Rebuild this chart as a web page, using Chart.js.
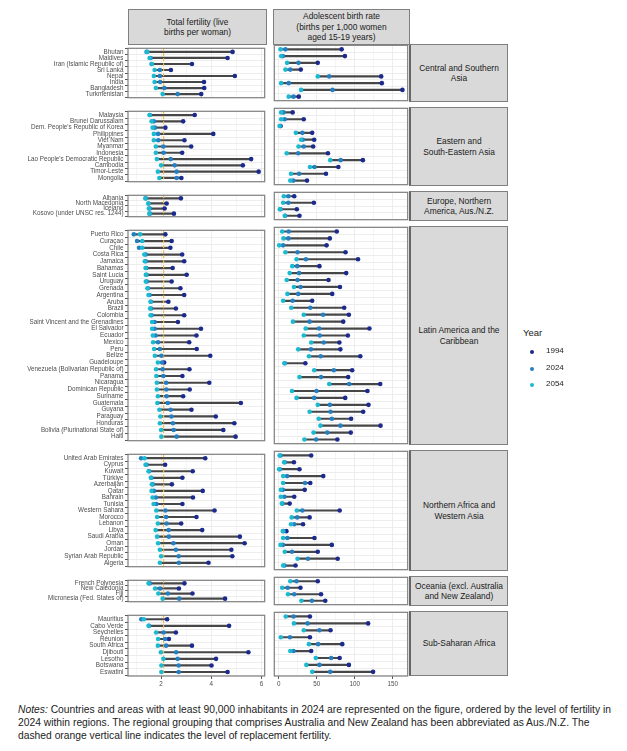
<!DOCTYPE html>
<html><head><meta charset="utf-8">
<script src="https://cdn.jsdelivr.net/npm/chart.js@4"></script>
<style>
body{margin:0;background:#fff;font-family:"Liberation Sans",Arial,sans-serif;}
#root{position:relative;width:627px;height:751px;overflow:hidden;background:#fff;}
.cbox{position:absolute;}
.strip{position:absolute;background:#d9d9d9;border:1px solid #7f7f7f;box-sizing:border-box;display:flex;align-items:center;justify-content:center;text-align:center;font-size:8.4px;color:#1a1a1a;line-height:1.25;}
.rstrip{border-left:2px solid #666;}
#legend{position:absolute;left:523px;top:327px;font-size:8px;color:#1a1a1a;}
#legend .t{font-size:9.5px;margin-bottom:9px;}
#legend .it{position:relative;height:16.6px;}
#legend .dot{position:absolute;left:7px;top:3px;width:4px;height:4px;border-radius:50%;}
#legend .lb{position:absolute;left:23px;top:-1px;}
#notes{position:absolute;left:18px;top:703px;width:605px;font-size:10.3px;line-height:13px;color:#222;}
</style></head>
<body><div id="root"></div>
<script>
// ---------- DATA ----------
const years = ["1994", "2024", "2054"];
const yearColors = ["#1b2a8c", "#2480c2", "#1cbad0"];
const replacementFertility = 2.1;
const tfrTicks = [2, 4, 6];
const tfrMinorTicks = [1, 3, 5];
const abrTicks = [0, 50, 100, 150];
const abrMinorTicks = [25, 75, 125];
const columnTitles = ["Total fertility (live<br>births per woman)", "Adolescent birth rate<br>(births per 1,000 women<br>aged 15-19 years)"];

const csaStrip = "Central and Southern<br>Asia";
const csaCountries = ["Bhutan","Maldives","Iran (Islamic Republic of)","Sri Lanka","Nepal","India","Bangladesh","Turkmenistan"];
const csaTfr1994 = [4.85,4.65,3.23,2.39,4.94,3.71,3.72,3.60];
const csaTfr2024 = [1.42,1.58,1.62,1.95,1.95,1.96,2.13,2.66];
const csaTfr2054 = [1.45,1.54,1.63,1.74,1.71,1.74,1.79,2.06];
const csaAbr1994 = [82.7,87.0,51.3,29.0,134.7,135.5,162.6,26.4];
const csaAbr2024 = [8.8,5.4,26.0,15.2,66.3,13.1,70.7,19.5];
const csaAbr2054 = [2.4,3.2,11.0,8.8,51.3,3.2,29.4,13.1];

const eseaStrip = "Eastern and<br>South-Eastern Asia";
const eseaCountries = ["Malaysia","Brunei Darussalam","Dem. People's Republic of Korea","Philippines","Viet Nam","Myanmar","Indonesia","Lao People's Democratic Republic","Cambodia","Timor-Leste","Mongolia"];
const eseaTfr1994 = [3.34,2.88,2.17,4.08,2.93,3.20,2.84,5.59,5.26,5.89,2.81];
const eseaTfr2024 = [1.55,1.71,1.75,1.88,1.89,2.09,2.10,2.38,2.54,2.62,2.62];
const eseaTfr2054 = [1.54,1.62,1.66,1.71,1.71,1.79,1.79,1.83,2.00,1.87,1.93];
const eseaAbr1994 = [18.3,32.9,2.5,44.0,46.6,45.3,64.7,110.6,78.4,62.1,37.2];
const eseaAbr2024 = [6.2,7.9,1.9,31.1,31.6,32.9,25.6,81.4,47.0,26.8,19.1];
const eseaAbr2054 = [3.2,3.2,1.1,22.5,29.4,26.0,10.5,67.7,41.0,16.1,15.2];

const enaStrip = "Europe, Northern<br>America, Aus./N.Z.";
const enaCountries = ["Albania","North Macedonia","Iceland","Kosovo (under UNSC res. 1244)"];
const enaTfr1994 = [2.79,2.22,2.14,2.51];
const enaTfr2024 = [1.39,1.50,1.55,1.55];
const enaTfr2054 = [1.37,1.49,1.51,1.53];
const enaAbr1994 = [20.4,46.2,23.8,27.3];
const enaAbr2024 = [12.7,12.7,2.4,8.5];
const enaAbr2054 = [6.7,5.8,1.5,7.9];

const lacStrip = "Latin America and the<br>Caribbean";
const lacCountries = ["Puerto Rico","Curaçao","Chile","Costa Rica","Jamaica","Bahamas","Saint Lucia","Uruguay","Grenada","Argentina","Aruba","Brazil","Colombia","Saint Vincent and the Grenadines","El Salvador","Ecuador","Mexico","Peru","Belize","Guadeloupe","Venezuela (Bolivarian Republic of)","Panama","Nicaragua","Dominican Republic","Suriname","Guatemala","Guyana","Paraguay","Honduras","Bolivia (Plurinational State of)","Haiti"];
const lacTfr1994 = [2.17,2.42,2.37,2.84,2.92,2.46,3.02,2.42,2.77,2.92,2.29,2.59,2.92,2.67,3.59,3.41,3.12,3.42,3.96,2.12,3.13,2.85,3.92,3.14,2.88,5.18,3.21,4.18,4.92,4.48,4.97];
const lacTfr2024 = [0.91,1.04,1.12,1.39,1.39,1.41,1.42,1.43,1.47,1.54,1.59,1.60,1.62,1.74,1.74,1.78,1.88,1.95,2.01,2.04,2.06,2.09,2.20,2.21,2.22,2.27,2.38,2.41,2.47,2.50,2.62];
const lacTfr2054 = [1.16,1.25,1.25,1.33,1.35,1.38,1.39,1.39,1.46,1.50,1.58,1.56,1.58,1.64,1.64,1.67,1.68,1.72,1.75,1.87,1.80,1.81,1.83,1.83,1.87,1.85,1.93,1.97,1.95,2.00,2.01];
const lacAbr1994 = [76.3,67.2,62.9,87.8,104.2,53.5,88.7,65.5,80.5,70.3,44.0,86.1,92.2,84.8,119.2,90.9,79.7,81.0,107.2,35.0,96.5,91.3,133.4,116.6,87.4,118.0,111.0,95.1,133.8,94.7,77.1];
const lacAbr2024 = [13.1,12.7,5.8,24.7,35.8,24.3,26.8,24.7,28.6,25.6,18.3,41.5,58.3,40.6,53.1,53.9,59.1,42.3,55.2,8.0,72.4,55.6,92.6,49.6,46.6,67.2,68.1,69.8,81.0,63.8,49.2];
const lacAbr2054 = [4.5,6.2,0.6,8.8,23.4,17.8,14.4,10.5,20.0,11.4,5.8,16.5,32.9,18.7,35.4,32.9,42.7,25.6,39.7,7.5,46.6,27.3,66.4,17.4,23.4,51.3,40.6,52.6,54.8,45.7,33.7];

const nawaStrip = "Northern Africa and<br>Western Asia";
const nawaCountries = ["United Arab Emirates","Cyprus","Kuwait","Türkiye","Azerbaijan","Qatar","Bahrain","Tunisia","Western Sahara","Morocco","Lebanon","Libya","Saudi Arabia","Oman","Jordan","Syrian Arab Republic","Algeria"];
const nawaTfr1994 = [3.76,2.16,3.26,2.85,2.43,3.66,3.27,2.85,4.13,3.41,2.80,3.64,5.14,5.33,4.80,4.84,3.89];
const nawaTfr2024 = [1.20,1.42,1.52,1.61,1.67,1.71,1.79,1.81,2.17,2.20,2.22,2.30,2.31,2.49,2.59,2.70,2.71];
const nawaTfr2054 = [1.34,1.38,1.50,1.59,1.63,1.62,1.66,1.70,1.81,1.84,1.87,1.78,1.84,1.88,1.95,2.00,1.95];
const nawaAbr1994 = [42.7,20.0,27.3,58.6,41.5,34.2,20.4,14.4,80.1,40.6,32.0,10.1,47.0,69.8,51.3,77.5,22.1];
const nawaAbr2024 = [2.4,8.0,1.5,11.0,34.6,5.4,7.5,5.0,31.1,24.3,20.4,6.5,11.4,5.4,17.4,38.4,7.5];
const nawaAbr2054 = [1.1,7.1,0.6,5.8,5.8,2.8,2.8,4.1,23.8,17.0,16.1,5.4,5.8,2.4,7.9,24.7,5.8];

const ocStrip = "Oceania (excl. Australia<br>and New Zealand)";
const ocCountries = ["French Polynesia","New Caledonia","Fiji","Micronesia (Fed. States of)"];
const ocTfr1994 = [2.93,2.71,3.25,4.55];
const ocTfr2024 = [1.55,1.96,2.27,2.72];
const ocTfr2054 = [1.50,1.76,1.89,2.06];
const ocAbr1994 = [51.3,28.6,55.6,61.2];
const ocAbr2024 = [23.4,11.8,20.4,43.6];
const ocAbr2054 = [15.2,4.5,12.2,29.8];

const ssaStrip = "Sub-Saharan Africa";
const ssaCountries = ["Mauritius","Cabo Verde","Seychelles","Réunion","South Africa","Djibouti","Lesotho","Botswana","Eswatini"];
const ssaTfr1994 = [2.24,4.71,2.59,2.31,3.23,5.48,4.19,4.01,4.65];
const ssaTfr2024 = [1.21,1.52,2.10,2.16,2.20,2.60,2.66,2.70,2.70];
const ssaTfr2054 = [1.31,1.50,1.80,1.88,1.87,1.99,2.09,2.01,2.01];
const ssaAbr1994 = [41.0,117.5,68.1,41.0,83.5,42.7,80.1,92.2,124.0];
const ssaAbr2024 = [19.5,38.0,53.5,14.8,51.8,19.5,68.9,53.5,67.7];
const ssaAbr2054 = [9.2,20.0,32.9,2.8,39.7,15.2,48.7,36.3,44.0];

const notesText = "<i>Notes:</i> Countries and areas with at least 90,000 inhabitants in 2024 are represented on the figure, ordered by the level of fertility in 2024 within regions. The regional grouping that comprises Australia and New Zealand has been abbreviated as Aus./N.Z. The dashed orange vertical line indicates the level of replacement fertility.";

// ---------- BUILD ----------
const panels = [
  {names: csaCountries, strip: csaStrip, tfr: [csaTfr1994, csaTfr2024, csaTfr2054], abr: [csaAbr1994, csaAbr2024, csaAbr2054]},
  {names: eseaCountries, strip: eseaStrip, tfr: [eseaTfr1994, eseaTfr2024, eseaTfr2054], abr: [eseaAbr1994, eseaAbr2024, eseaAbr2054]},
  {names: enaCountries, strip: enaStrip, tfr: [enaTfr1994, enaTfr2024, enaTfr2054], abr: [enaAbr1994, enaAbr2024, enaAbr2054]},
  {names: lacCountries, strip: lacStrip, tfr: [lacTfr1994, lacTfr2024, lacTfr2054], abr: [lacAbr1994, lacAbr2024, lacAbr2054]},
  {names: nawaCountries, strip: nawaStrip, tfr: [nawaTfr1994, nawaTfr2024, nawaTfr2054], abr: [nawaAbr1994, nawaAbr2024, nawaAbr2054]},
  {names: ocCountries, strip: ocStrip, tfr: [ocTfr1994, ocTfr2024, ocTfr2054], abr: [ocAbr1994, ocAbr2024, ocAbr2054]},
  {names: ssaCountries, strip: ssaStrip, tfr: [ssaTfr1994, ssaTfr2024, ssaTfr2054], abr: [ssaAbr1994, ssaAbr2024, ssaAbr2054]}
];

const FAMILY = "'Liberation Sans', Arial, sans-serif";
Chart.defaults.font.family = FAMILY;
const root = document.getElementById('root');

const frame = {
  id: 'frame',
  afterDraw(c) {
    const a = c.chartArea, ctx = c.ctx;
    ctx.save();
    ctx.strokeStyle = '#7f7f7f';
    ctx.lineWidth = 1.2;
    ctx.strokeRect(a.left, a.top, a.right - a.left, a.bottom - a.top);
    ctx.restore();
  }
};

function makePanel(opts) {
  const {names, series, left, top, width, height, isLeft, isBottom, xMin, xMax, majors, minors, refLine} = opts;
  const n = names.length;
  const div = document.createElement('div');
  div.className = 'cbox';
  div.style.left = left + 'px';
  div.style.top = top + 'px';
  div.style.width = width + 'px';
  div.style.height = height + 'px';
  const cv = document.createElement('canvas');
  div.appendChild(cv);
  root.appendChild(div);

  const datasets = [];
  if (refLine !== null) {
    datasets.push({type: 'scatter', showLine: true, data: [{x: refLine, y: -0.6}, {x: refLine, y: n - 0.4}],
      borderColor: '#f2bb52', backgroundColor: '#f2bb52', borderWidth: 1.2, borderDash: [3, 2],
      pointRadius: 0, pointHoverRadius: 0, fill: false, tension: 0, order: 5});
  }
  datasets.push({type: 'bar', indexAxis: 'y',
    data: names.map((_, i) => {
      const vals = series.map(s => s[i]);
      return {y: i, x: [Math.min(...vals), Math.max(...vals)]};
    }),
    backgroundColor: '#474747', barThickness: 1.5, borderWidth: 0, grouped: false, order: 10});
  series.forEach((s, k) => {
    datasets.push({type: 'scatter', label: years[k],
      data: names.map((_, i) => ({x: s[i], y: i})),
      pointRadius: 2.3, pointHoverRadius: 2.3, pointBackgroundColor: yearColors[k], pointBorderWidth: 0,
      showLine: false, order: 3 - k});
  });

  const allTicks = majors.concat(minors).sort((a, b) => a - b);
  new Chart(cv, {
    type: 'scatter',
    data: {datasets},
    plugins: [frame],
    options: {
      responsive: true, maintainAspectRatio: false, animation: false,
      layout: {padding: {top: 1, bottom: isBottom ? 0 : 1, left: isLeft ? 0 : 1, right: 1}},
      plugins: {legend: {display: false}, tooltip: {enabled: false}},
      events: [],
      scales: {
        x: {
          type: 'linear', min: xMin, max: xMax, offset: false,
          afterBuildTicks: s => { s.ticks = allTicks.map(v => ({value: v})); },
          afterFit: s => { s.height = isBottom ? 13 : 0; },
          ticks: {display: isBottom, autoSkip: false, maxRotation: 0, padding: 1,
            font: {size: 6.3, family: FAMILY}, color: '#4d4d4d',
            callback: v => majors.includes(v) ? String(v) : ''},
          grid: {color: '#ebebeb', lineWidth: c => (c.tick && majors.includes(c.tick.value)) ? 0.9 : 0.5,
            drawTicks: isBottom, tickLength: 3, tickWidth: 0.9,
            tickColor: c => (c.tick && majors.includes(c.tick.value)) ? '#444' : 'rgba(0,0,0,0)'},
          border: {display: false}
        },
        y: {
          type: 'linear', reverse: true, min: -0.6, max: n - 0.4, offset: false,
          afterBuildTicks: s => { s.ticks = names.map((_, i) => ({value: i})); },
          afterFit: s => { s.width = isLeft ? 128 : 0; },
          ticks: {display: isLeft, autoSkip: false, padding: 1.5,
            font: {size: 6.3, family: FAMILY}, color: '#4d4d4d',
            callback: v => names[v]},
          grid: {color: '#ebebeb', lineWidth: 0.9, drawTicks: isLeft, tickLength: 3, tickWidth: 0.9, tickColor: '#444'},
          border: {display: false}
        }
      }
    }
  });
}

const rowH = 7.03, gap = 5, top0 = 44;
let y = top0;
panels.forEach((p, idx) => {
  const n = p.names.length;
  const H = Math.round((n + 0.2) * rowH);
  const T = Math.round(y);
  const isBottom = idx === panels.length - 1;
  const extra = isBottom ? 13 : 1;
  makePanel({names: p.names, series: p.tfr, left: 0, top: T - 1, width: 267, height: H + 1 + extra,
    isLeft: true, isBottom, xMin: 0.68, xMax: 6.13, majors: tfrTicks, minors: tfrMinorTicks, refLine: replacementFertility});
  makePanel({names: p.names, series: p.abr, left: 272, top: T - 1, width: 138, height: H + 1 + extra,
    isLeft: false, isBottom, xMin: -5.8, xMax: 169.5, majors: abrTicks, minors: abrMinorTicks, refLine: null});
  const st = document.createElement('div');
  st.className = 'strip rstrip';
  st.style.left = '409px'; st.style.top = T + 'px'; st.style.width = '99px'; st.style.height = H + 'px';
  st.innerHTML = p.strip;
  root.appendChild(st);
  y += H + gap;
});

// column header strips
[[128, 139], [273, 137]].forEach((g, k) => {
  const s = document.createElement('div');
  s.className = 'strip';
  s.style.left = g[0] + 'px'; s.style.top = '9px'; s.style.width = g[1] + 'px'; s.style.height = '36px';
  s.innerHTML = columnTitles[k];
  root.appendChild(s);
});

// legend
const lg = document.createElement('div');
lg.id = 'legend';
let lh = '<div class="t">Year</div>';
years.forEach((yr, k) => {
  lh += '<div class="it"><span class="dot" style="background:' + yearColors[k] + '"></span><span class="lb">' + yr + '</span></div>';
});
lg.innerHTML = lh;
root.appendChild(lg);

// notes
const nt = document.createElement('div');
nt.id = 'notes';
nt.innerHTML = notesText;
root.appendChild(nt);
</script>
</body></html>
